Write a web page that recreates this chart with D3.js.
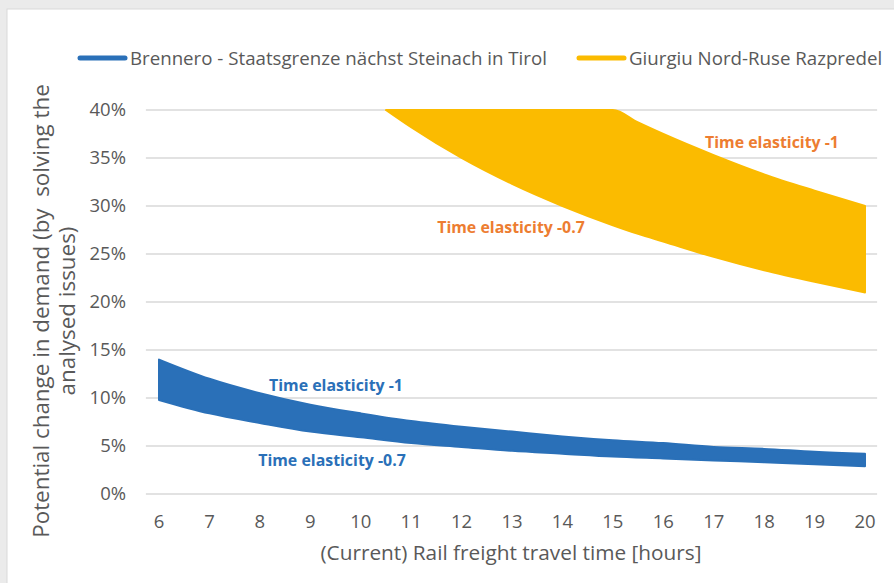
<!DOCTYPE html>
<html>
<head>
<meta charset="utf-8">
<script src="https://cdn.jsdelivr.net/npm/d3@7/dist/d3.min.js"></script>
<style>
  body { margin: 0; background: #ebebeb; }
  svg { display: block; }
  text { font-family: "Open Sans", Lato, sans-serif; white-space: pre; }
</style>
</head>
<body>
<svg width="894" height="583"></svg>
<script>
// hours of rail freight travel time
const hours = [6, 7, 8, 9, 10, 11, 12, 13, 14, 15, 16, 17, 18, 19, 20]
// Brennero band (%), elasticity -1 on top, -0.7 below
const brenneroHigh = [14.0, 12.0, 10.5, 9.3, 8.4, 7.6, 7.0, 6.5, 6.0, 5.6, 5.3, 4.9, 4.7, 4.4, 4.2]
const brenneroLow = [9.8, 8.4, 7.4, 6.5, 5.9, 5.3, 4.9, 4.5, 4.2, 3.9, 3.7, 3.5, 3.3, 3.1, 2.9]
// Giurgiu band starts where it drops under the 40% cap
const giurgiuHours = [10.5, 11, 12, 13, 14, 15, 15.5, 16, 17, 18, 19, 20]
const giurgiuHigh = [40, 40, 40, 40, 40, 40, 38.7, 37.5, 35.3, 33.3, 31.6, 30.0]
const giurgiuLow = [40, 38.2, 35.0, 32.3, 30.0, 28.0, 27.1, 26.3, 24.7, 23.3, 22.1, 21.0]

const yTicks = [0, 5, 10, 15, 20, 25, 30, 35, 40]
const seriesNames = ['Brennero - Staatsgrenze nächst Steinach in Tirol', 'Giurgiu Nord-Ruse Razpredel']
const blue = '#2a70b8'
const yellow = '#fbbb00'
const orange = '#ed7d31'
const grey = '#595959'

const svg = d3.select('svg')

svg.append('rect')
    .attr('x', 7).attr('y', 9)
    .attr('width', 900).attr('height', 600)
    .attr('fill', 'white')
    .attr('stroke', '#d9d9d9')

const x = d3.scaleLinear().domain([6, 20]).range([159, 865])
const y = d3.scaleLinear().domain([0, 40]).range([494, 110])

// gridlines
svg.append('g')
  .selectAll('line').data(yTicks)
  .enter().append('line')
    .attr('x1', x(5.74)).attr('x2', x(20.24))
    .attr('y1', d => y(d)).attr('y2', d => y(d))
    .attr('stroke', '#d9d9d9')
    .attr('stroke-width', 1.3)

svg.append('g')
  .selectAll('text').data(yTicks)
  .enter().append('text')
    .attr('x', 126).attr('y', d => y(d))
    .attr('dy', '0.35em')
    .attr('text-anchor', 'end')
    .attr('font-size', 18.5)
    .attr('fill', grey)
    .text(d => d + '%')

svg.append('g')
  .selectAll('text').data(hours)
  .enter().append('text')
    .attr('x', d => x(d)).attr('y', 522)
    .attr('dy', '0.35em')
    .attr('text-anchor', 'middle')
    .attr('font-size', 18.5)
    .attr('fill', grey)
    .text(d => d)

const band = d3.area()
    .x(d => x(d[0]))
    .y0(d => y(d[2]))
    .y1(d => y(d[1]))
    .curve(d3.curveMonotoneX)

const brennero = hours.map((h, i) => [h, brenneroHigh[i], brenneroLow[i]])
const giurgiu = giurgiuHours.map((h, i) => [h, giurgiuHigh[i], giurgiuLow[i]])

svg.append('path')
    .datum(giurgiu)
    .attr('d', band)
    .attr('fill', yellow)
    .attr('stroke', yellow)
    .attr('stroke-width', 2)
    .attr('stroke-linejoin', 'round')

svg.append('path')
    .datum(brennero)
    .attr('d', band)
    .attr('fill', blue)
    .attr('stroke', blue)
    .attr('stroke-width', 2)
    .attr('stroke-linejoin', 'round')

// labels on the bands
const labels = [
  { t: 'Time elasticity -1', x: 336, y: 385, c: blue },
  { t: 'Time elasticity -0.7', x: 332, y: 460, c: blue },
  { t: 'Time elasticity -1', x: 772, y: 142, c: orange },
  { t: 'Time elasticity -0.7', x: 511, y: 227, c: orange }
]
svg.append('g')
  .selectAll('text').data(labels)
  .enter().append('text')
    .attr('x', d => d.x).attr('y', d => d.y)
    .attr('dy', '0.35em')
    .attr('text-anchor', 'middle')
    .attr('font-size', 15.9)
    .attr('font-weight', 'bold')
    .attr('fill', d => d.c)
    .text(d => d.t)

// legend
const legend = svg.append('g')
const legendItems = [
  { name: seriesNames[0], x: 78, c: blue },
  { name: seriesNames[1], x: 577, c: yellow }
]
legend.selectAll('line').data(legendItems)
  .enter().append('line')
    .attr('x1', d => d.x + 2).attr('x2', d => d.x + 47)
    .attr('y1', 58).attr('y2', 58)
    .attr('stroke', d => d.c)
    .attr('stroke-width', 5)
    .attr('stroke-linecap', 'round')
legend.selectAll('text').data(legendItems)
  .enter().append('text')
    .attr('x', d => d.x + 52).attr('y', 58)
    .attr('dy', '0.35em')
    .attr('font-size', 18.7)
    .attr('fill', grey)
    .text(d => d.name)

// axis titles
svg.append('text')
    .attr('x', 511).attr('y', 553)
    .attr('dy', '0.35em')
    .attr('text-anchor', 'middle')
    .attr('font-size', 20.8)
    .attr('fill', grey)
    .text('(Current) Rail freight travel time [hours]')

const yTitle = svg.append('text')
    .attr('transform', 'translate(0,311) rotate(-90)')
    .attr('text-anchor', 'middle')
    .attr('font-size', 22.4)
    .attr('fill', grey)
yTitle.append('tspan').attr('x', 0).attr('y', 49).text('Potential change in demand (by  solving the')
yTitle.append('tspan').attr('x', 0).attr('y', 75).text('analysed issues)')
</script>
</body>
</html>
